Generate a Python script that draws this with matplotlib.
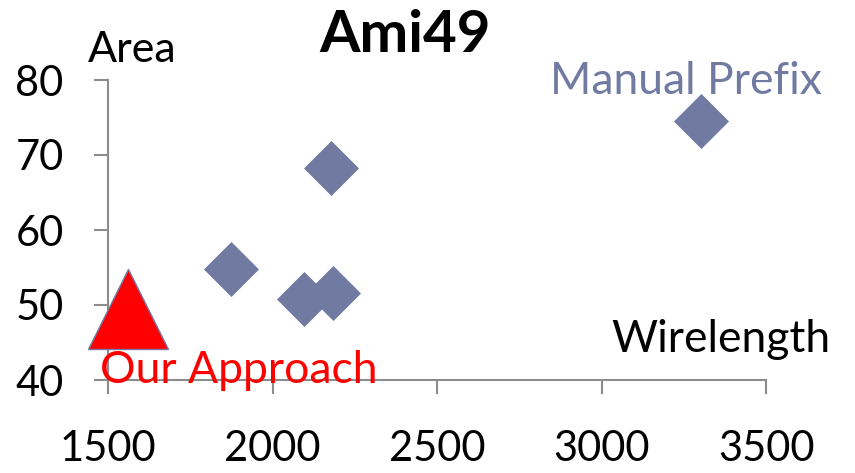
import matplotlib
matplotlib.use("Agg")
import matplotlib.pyplot as plt

plt.rcParams["font.family"] = ["Lato", "DejaVu Sans"]

# data
manual_wl = [1874, 2096, 2184, 2178, 3301]
manual_area = [54.8, 50.8, 51.6, 68.3, 74.5]
ours_wl = [1561]
ours_area = [49.5]

x_ticks = [1500, 2000, 2500, 3000, 3500]
y_ticks = [40, 50, 60, 70, 80]

blue = "#717ba2"
gray = "#8c8c8c"

fig = plt.figure(figsize=(8.55, 4.73), dpi=100)
ax = fig.add_axes([108 / 855, 93 / 473, 658 / 855, 300 / 473])

ax.scatter(manual_wl, manual_area, marker="D", s=28 ** 2, color=blue,
           linewidths=0, zorder=3, clip_on=False)
ax.scatter(ours_wl, ours_area, marker="^", s=57.6 ** 2, color="red",
           edgecolors=blue, linewidths=1, zorder=3, clip_on=False)

ax.set_xlim(1500, 3500)
ax.set_ylim(40, 80)
ax.set_xticks(x_ticks)
ax.set_yticks(y_ticks)

for side in ["top", "right"]:
    ax.spines[side].set_visible(False)
for side in ["left", "bottom"]:
    ax.spines[side].set_color(gray)
    ax.spines[side].set_linewidth(1.5)

ax.tick_params(axis="x", direction="out", length=10, width=1.5, color=gray,
               labelsize=30, pad=26)
ax.tick_params(axis="y", direction="out", length=10, width=1.5, color=gray,
               labelsize=30, pad=22)

# labels and annotations
fig.text(405 / 855, 1 - 36 / 473, "Ami49", fontsize=42, fontweight="bold",
         ha="center", va="center")
fig.text(88 / 855, 1 - 62 / 473, "Area", fontsize=31, ha="left", va="baseline")
fig.text(822 / 855, 1 - 94 / 473, "Manual Prefix", fontsize=32, color=blue,
         ha="right", va="baseline")
fig.text(830 / 855, 1 - 352 / 473, "Wirelength", fontsize=32, ha="right",
         va="baseline")
fig.text(100 / 855, 1 - 383 / 473, "Our Approach", fontsize=32, color="red",
         ha="left", va="baseline", zorder=5)

fig.savefig("out.png", dpi=100)
